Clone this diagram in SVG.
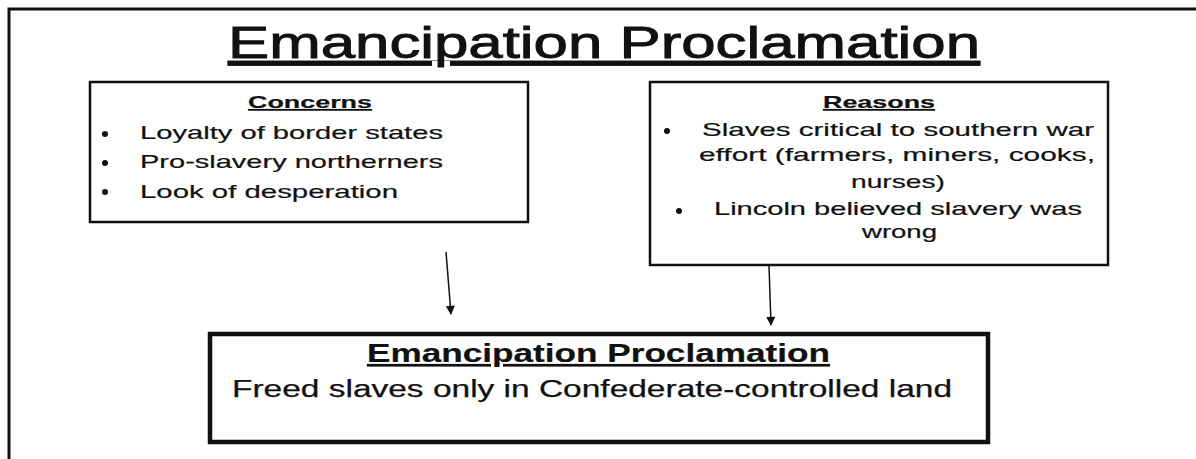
<svg xmlns="http://www.w3.org/2000/svg" width="1196" height="459" viewBox="0 0 1196 459">
<style>
text{font-family:"Liberation Sans",Arial,sans-serif;fill:#111;stroke:#111;}
.t{font-size:44px;text-decoration:underline;stroke-width:0.9;}
.h{font-size:17px;font-weight:bold;text-decoration:underline;stroke-width:0.2;}
.b{font-size:19px;stroke-width:0.2;}
.bt{font-size:25px;font-weight:bold;text-decoration:underline;stroke-width:0.2;}
.bs{font-size:23px;stroke-width:0.25;}
.box{fill:#fff;stroke:#111;stroke-width:2.5;}
.dot{fill:#111;}
.conn{stroke:#111;stroke-width:1.5;fill:none;}
</style>
<defs>
<marker id="ah" viewBox="0 0 10 10" refX="9" refY="5" markerWidth="10" markerHeight="9" markerUnits="userSpaceOnUse" orient="auto">
<path d="M0,0 L10,5 L0,10 Z" fill="#111"/>
</marker>
</defs>
<rect x="0" y="0" width="1196" height="459" fill="#fff"/>
<rect x="9" y="9" width="1200" height="500" fill="none" stroke="#111" stroke-width="3"/>
<g id="title">
<text class="t" x="228" y="58" textLength="752" lengthAdjust="spacingAndGlyphs">Emancipation Proclamation</text>
</g>
<g id="concerns">
<rect class="box" x="90" y="82" width="438" height="140"/>
<text class="h" x="248" y="108" textLength="124" lengthAdjust="spacingAndGlyphs">Concerns</text>
<circle class="dot" cx="105" cy="134" r="3"/>
<circle class="dot" cx="105" cy="163" r="3"/>
<circle class="dot" cx="105" cy="192" r="3"/>
<text class="b" x="140" y="139" textLength="303" lengthAdjust="spacingAndGlyphs">Loyalty of border states</text>
<text class="b" x="140" y="168" textLength="303" lengthAdjust="spacingAndGlyphs">Pro-slavery northerners</text>
<text class="b" x="140" y="198" textLength="258" lengthAdjust="spacingAndGlyphs">Look of desperation</text>
</g>
<g id="reasons">
<rect class="box" x="650" y="82" width="458" height="183"/>
<text class="h" x="823" y="108" textLength="112" lengthAdjust="spacingAndGlyphs">Reasons</text>
<circle class="dot" cx="667" cy="131" r="3"/>
<circle class="dot" cx="679" cy="211" r="3"/>
<text class="b" x="702" y="136" textLength="392" lengthAdjust="spacingAndGlyphs">Slaves critical to southern war</text>
<text class="b" x="699" y="161" textLength="396" lengthAdjust="spacingAndGlyphs">effort (farmers, miners, cooks,</text>
<text class="b" x="851" y="188" textLength="94" lengthAdjust="spacingAndGlyphs">nurses)</text>
<text class="b" x="714" y="215" textLength="368" lengthAdjust="spacingAndGlyphs">Lincoln believed slavery was</text>
<text class="b" x="862" y="238" textLength="75" lengthAdjust="spacingAndGlyphs">wrong</text>
</g>
<g id="result">
<rect x="210" y="334" width="778" height="108" fill="#fff" stroke="#111" stroke-width="4.5"/>
<text class="bt" x="367" y="362" textLength="463" lengthAdjust="spacingAndGlyphs">Emancipation Proclamation</text>
<text class="bs" x="232" y="397" textLength="720" lengthAdjust="spacingAndGlyphs">Freed slaves only in Confederate-controlled land</text>
</g>
<g id="connectors">
<line class="conn" x1="446" y1="252" x2="451" y2="314" marker-end="url(#ah)"/>
<line class="conn" x1="769" y1="266" x2="771" y2="325" marker-end="url(#ah)"/>
</g>
</svg>
